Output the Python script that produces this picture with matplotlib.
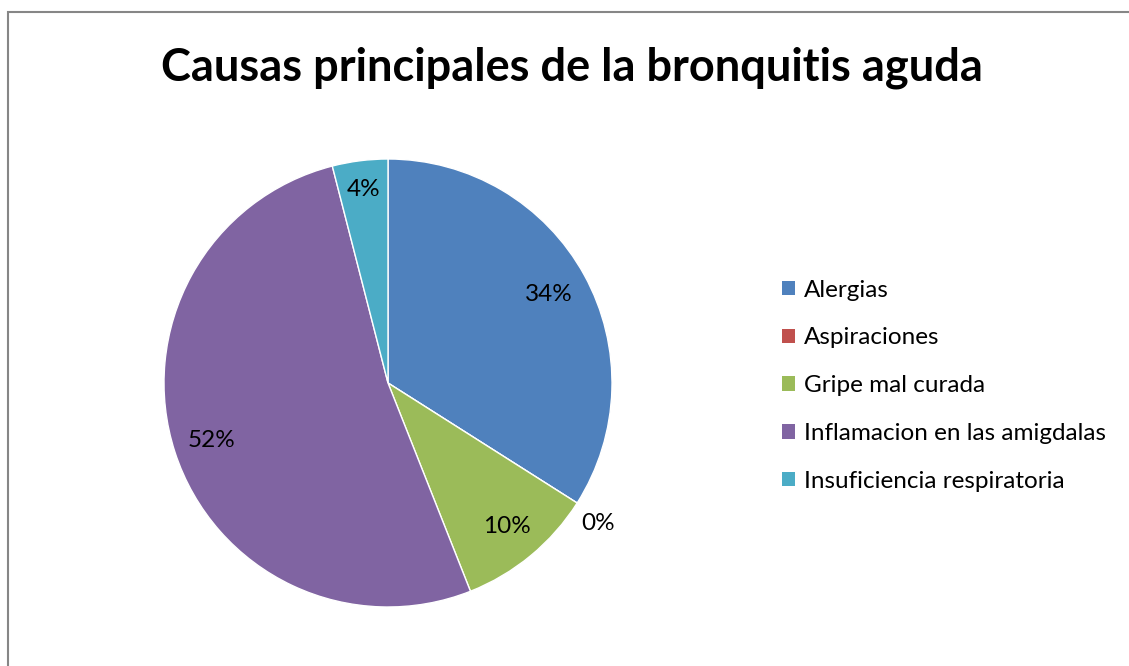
import matplotlib
matplotlib.use("Agg")
import matplotlib.pyplot as plt
from matplotlib.patches import Rectangle, Patch
import numpy as np

plt.rcParams['font.family'] = ['Lato', 'DejaVu Sans']

title = "Causas principales de la bronquitis aguda"
categories = ["Alergias", "Aspiraciones", "Gripe mal curada",
              "Inflamacion en las amigdalas", "Insuficiencia respiratoria"]
values = [34, 0, 10, 52, 4]
pct_labels = ["34%", "0%", "10%", "52%", "4%"]
colors = ["#4F81BD", "#C0504D", "#9BBB59", "#8064A2", "#4BACC6"]

W, H = 1129, 666
fig = plt.figure(figsize=(W / 100, H / 100), dpi=100)
fig.patch.set_facecolor("white")

# outer border of the chart area
fig.patches.append(Rectangle((7.5 / W, -0.1), 1.2, (H - 11.5) / H + 0.1,
                             transform=fig.transFigure, fill=False,
                             edgecolor="#868686", linewidth=1.5))

cx, cy, r = 388, 383, 224
ax = fig.add_axes([(cx - r) / W, (H - cy - r) / H, 2 * r / W, 2 * r / H])

wedges, _ = ax.pie(values, colors=colors, startangle=90, counterclock=False,
                   radius=1, wedgeprops=dict(edgecolor="white", linewidth=1))
ax.set_xlim(-1, 1)
ax.set_ylim(-1, 1)
ax.axis("off")

label_r = [0.82, 1.13, 0.83, 0.83, 0.87]
for w, lab, lr in zip(wedges, pct_labels, label_r):
    ang = np.deg2rad((w.theta1 + w.theta2) / 2)
    x, y = lr * np.cos(ang), lr * np.sin(ang)
    if lab == "0%":
        x, y = 0.94, -0.625
    ax.text(x, y, lab, ha="center", va="center", fontsize=17.5, color="black")

fig.text(572 / W, 1 - 68 / H, title, ha="center", va="center",
         fontsize=32.5, fontweight="bold", color="black")

handles = [Patch(facecolor=c, edgecolor="none") for c in colors]
leg = fig.legend(handles, categories, loc="upper left",
                 bbox_to_anchor=(772 / W, 1 - 270 / H), frameon=False,
                 fontsize=17.5, handlelength=0.55, handleheight=0.55,
                 handletextpad=0.35, labelspacing=1.10, borderaxespad=0)

fig.savefig("out.png", dpi=100, facecolor="white")
